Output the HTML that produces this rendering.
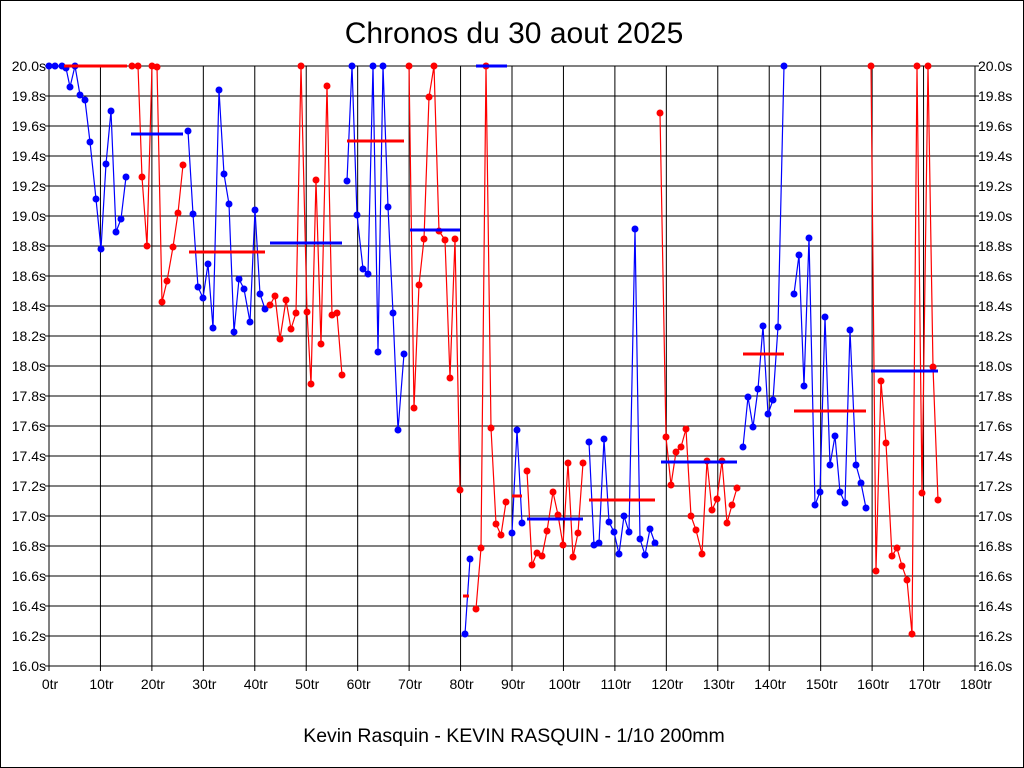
<!DOCTYPE html>
<html><head><meta charset="utf-8"><style>
body{margin:0;background:#fff;}
svg{display:block;font-family:"Liberation Sans",sans-serif;}
</style></head><body>
<svg id="s" width="1024" height="768" xmlns="http://www.w3.org/2000/svg">
<rect x="0.5" y="0.5" width="1023" height="767" fill="#fff" stroke="#000"/>
<text x="514" y="43" font-size="30" text-anchor="middle">Chronos du 30 aout 2025</text>
<text x="514" y="742" font-size="19.5" text-anchor="middle">Kevin Rasquin - KEVIN RASQUIN - 1/10 200mm</text>
<g id="grid"></g>
<g id="data"></g>
</svg>
<script>
var ns="http://www.w3.org/2000/svg";
function el(p,t,a,txt){var e=document.createElementNS(ns,t);for(var k in a)e.setAttribute(k,a[k]);if(txt!==undefined)e.textContent=txt;p.appendChild(e);return e;}
var g=document.getElementById('grid'),d=document.getElementById('data');
var L=49,R=975,T=66,B=666;
for(var i=0;i<=18;i++){var x=L+(R-L)*i/18;el(g,'line',{x1:x,y1:T,x2:x,y2:B+5,stroke:'#000','stroke-width':1});
el(g,'text',{x:x+1,y:689,'font-size':14,'text-anchor':'middle'},(i*10)+'tr');}
for(var j=0;j<=20;j++){var y=T+30*j;el(g,'line',{x1:L-4,y1:y,x2:R+4,y2:y,stroke:'#000','stroke-width':1});
var v=(20-j*0.2).toFixed(1)+'s';el(g,'text',{x:L-3,y:y+5,'font-size':14,'text-anchor':'end'},v);el(g,'text',{x:R+3,y:y+5,'font-size':14},v);}
var B_='#0000ff',R_='#ff0000';
var segs=[
[B_,[[49,66],[55,66],[62,66],[66,68],[70,87],[75,66],[80,95],[85,100],[90,142],[96,199],[101,249],[106,164],[111,111],[116,232],[121,219],[126,177]]],
[R_,[[132,66],[138,66],[142,177],[147,246],[152,66],[157,67],[162,302],[167,281],[173,247],[178,213],[183,165]]],
[B_,[[188,131],[193,214],[198,287],[203,298],[208,264],[213,328],[219,90],[224,174],[229,204],[234,332],[239,279],[244,289],[250,322],[255,210],[260,294],[265,309]]],
[R_,[[270,305],[275,296],[280,339],[286,300],[291,329],[296,313],[301,66],[307,312],[311,384],[316,180],[321,344],[327,86],[332,315],[337,313],[342,375]]],
[B_,[[347,181],[352,66],[357,215],[363,269],[368,274],[373,66],[378,352],[383,66],[388,207],[393,313],[398,430],[404,354]]],
[R_,[[409,66],[414,408],[419,285],[424,239],[429,97],[434,66],[439,231],[445,240],[450,378],[455,239],[460,490]]],
[B_,[[465,634],[470,559]]],
[R_,[[476,609],[481,548],[486,66],[491,428],[496,524],[501,535],[506,502]]],
[B_,[[512,533],[517,430],[522,523]]],
[R_,[[527,471],[532,565],[537,553],[542,556],[547,531],[553,492],[558,515],[563,545],[568,463],[573,557],[578,533],[583,463]]],
[B_,[[589,442],[594,545],[599,543],[604,439],[609,522],[614,532],[619,554],[624,516],[629,532],[635,229],[640,539],[645,555],[650,529],[655,543]]],
[R_,[[660,113],[666,437],[671,485],[676,452],[681,447],[686,429],[691,516],[696,530],[702,554],[707,461],[712,510],[717,499],[722,461],[727,523],[732,505],[737,488]]],
[B_,[[743,447],[748,397],[753,427],[758,389],[763,326],[768,414],[773,400],[778,327],[784,66]]],
[B_,[[794,294],[799,255],[804,386],[809,238],[815,505],[820,492],[825,317],[830,465],[835,436],[840,492],[845,503],[850,330],[856,465],[861,483],[866,508]]],
[R_,[[871,66],[876,571],[881,381],[886,443],[892,556],[897,548],[902,566],[907,580],[912,634],[917,66],[922,493],[928,66],[933,367],[938,500]]]
];
segs.forEach(function(s){var pts=s[1].map(function(p){return p.join(',')}).join(' ');
el(d,'polyline',{points:pts,fill:'none',stroke:s[0],'stroke-width':1.2});
s[1].forEach(function(p){el(d,'circle',{cx:p[0],cy:p[1],r:3.5,fill:s[0]});});});
var means=[[R_,64,127,66],[B_,131,183,134],[R_,189,265,252],[B_,270,342,243],[R_,347,404,141],[B_,410,460,230],[B_,476,507,66],[R_,463,469,596],[R_,512,522,496],[B_,527,583,519],[R_,589,655,500],[B_,661,737,462],[R_,743,784,354],[R_,794,866,411],[B_,871,938,371]];
means.forEach(function(m){el(d,'line',{x1:m[1],y1:m[3],x2:m[2],y2:m[3],stroke:m[0],'stroke-width':3});});
</script>
</body></html>
